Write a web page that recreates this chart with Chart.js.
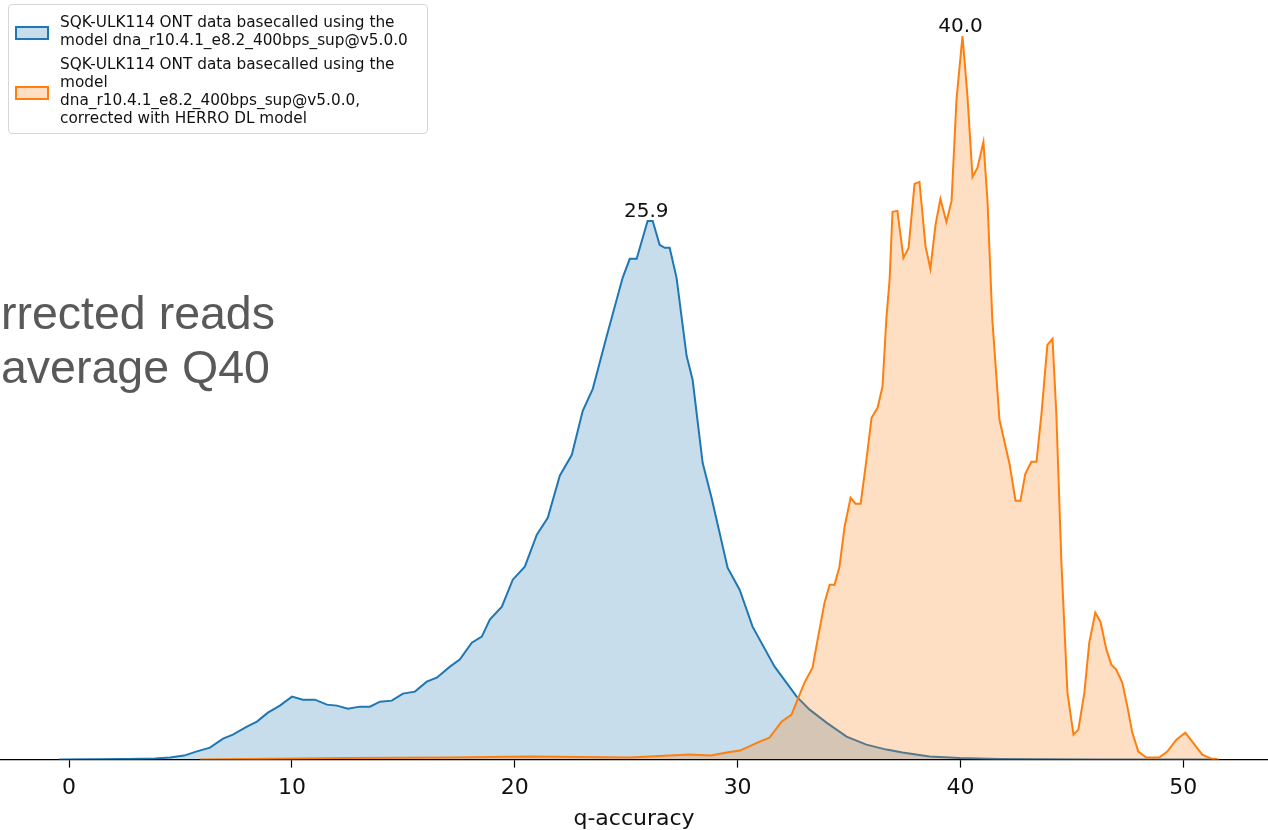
<!DOCTYPE html>
<html>
<head>
<meta charset="utf-8">
<script src="https://cdn.jsdelivr.net/npm/chart.js@4.4.1/dist/chart.umd.min.js"></script>
<style>
  body { margin: 0; background: #fff; overflow: hidden; }
  #wrap { position: relative; width: 1268px; height: 830px; overflow: hidden; }
  #side {
    position: absolute; left: 1px; top: 286px;
    font-family: "Liberation Sans", Arial, sans-serif;
    font-size: 46.5px; line-height: 54px; color: #595959;
    white-space: nowrap;
  }
  #legend {
    position: absolute; left: 8px; top: 4px; width: 418px; height: 128px;
    border: 1px solid #d6d6d6; border-radius: 4px; background: rgba(255,255,255,0.85);
    font-family: "DejaVu Sans", sans-serif; font-size: 15.3px; line-height: 18px; color: #111;
  }
  .item { position: absolute; left: 51px; white-space: nowrap; }
  .patch { position: absolute; left: 6px; width: 30px; height: 10px; border: 2px solid; }
</style>
</head>
<body>
<div id="wrap">
  <canvas id="kde"></canvas>
  <div id="side">rrected reads<br>average Q40</div>
  <div id="legend"></div>
</div>
<script>
// series: q-accuracy positions and KDE density (arbitrary units)
const seriesNames = [
  ["SQK-ULK114 ONT data basecalled using the", "model dna_r10.4.1_e8.2_400bps_sup@v5.0.0"],
  ["SQK-ULK114 ONT data basecalled using the", "model", "dna_r10.4.1_e8.2_400bps_sup@v5.0.0,", "corrected with HERRO DL model"]
];

const rawQ = [-0.45, 2.6, 3.86, 4.53, 5.16, 5.7, 6.32, 6.91, 7.35, 7.98, 8.43, 8.92, 9.46, 10.0,
  10.49, 11.03, 11.57, 12.02, 12.51, 13.05, 13.5, 13.95, 14.48, 14.98, 15.52, 16.05, 16.5, 17.09,
  17.53, 18.07, 18.52, 18.88, 19.42, 19.91, 20.45, 20.99, 21.48, 22.02, 22.56, 23.05, 23.5, 24.13,
  24.84, 25.16, 25.47, 25.96, 26.19, 26.5, 26.73, 26.95, 27.26, 27.71, 27.98, 28.43, 28.83, 29.55,
  30.09, 30.67, 31.66, 32.65, 33.23, 33.99, 34.89, 35.78, 36.68, 37.4, 38.61, 39.96, 41.75, 46.2, 51.4];
const rawDensity = [0, 0.5, 1, 2, 4, 8, 12, 21, 25, 33, 38, 47, 54, 63,
  60, 60, 55, 54, 51, 53, 53, 58, 59, 66, 68, 78, 82, 93,
  100, 117, 123, 140, 153, 180, 193, 225, 242, 284, 305, 349, 371, 424,
  482, 501, 501, 539, 539, 515, 512, 512, 482, 404, 380, 297, 262, 192,
  170, 133, 93, 63, 50, 37, 23, 15, 10, 7, 3, 1.5, 0.5, 0, 0];

const herroQ = [5.87, 12.47, 17.09, 20.67, 25.16, 27.85, 28.79, 29.51, 30.09, 30.4, 30.99, 31.43,
  31.97, 32.42, 32.69, 33.0, 33.36, 33.59, 33.9, 34.13, 34.35, 34.57, 34.8, 35.07, 35.29, 35.52,
  35.78, 36.01, 36.28, 36.5, 36.68, 36.82, 36.95, 37.17, 37.44, 37.67, 37.94, 38.16, 38.43, 38.65,
  38.88, 39.1, 39.37, 39.6, 39.82, 40.09, 40.31, 40.54, 40.76, 41.03, 41.21, 41.43, 41.75, 42.2,
  42.47, 42.69, 42.91, 43.18, 43.41, 43.63, 43.9, 44.13, 44.3, 44.53, 44.8, 45.07, 45.29, 45.56,
  45.78, 46.05, 46.28, 46.55, 46.77, 46.99, 47.26, 47.49, 47.71, 47.98, 48.34, 48.92, 49.28, 49.69,
  50.09, 50.4, 50.85, 51.26, 51.6];
const herroDensity = [0, 1.5, 2, 3, 2, 5, 4, 7, 9, 12, 18, 22,
  38, 45, 60, 77, 92, 120, 157, 175, 175, 193, 233, 262, 256, 256,
  300, 342, 352, 373, 443, 480, 548, 549, 502, 512, 576, 578, 514, 491,
  535, 561, 538, 559, 660, 724, 665, 583, 592, 618, 560, 440, 340, 296,
  259, 259, 286, 298, 298, 345, 415, 421, 347, 197, 67, 25, 30, 67,
  117, 147, 138, 110, 95, 90, 77, 53, 27, 8, 2, 2, 8, 20,
  27, 18, 5, 1, 0];

// modes written above each curve
const modeQ = [25.9, 40.0];
const modeLabels = ["25.9", "40.0"];

const xTicks = [0, 10, 20, 30, 40, 50];

const colors = ["#1f77b4", "#ff7f0e"];
const fills = ["rgba(31,119,180,0.25)", "rgba(255,127,14,0.25)"];

function toPoints(xs, ys) {
  return xs.map((x, i) => ({ x: x, y: ys[i] }));
}

// legend
const legend = document.getElementById("legend");
const tops = [8, 50];
seriesNames.forEach((lines, i) => {
  const item = document.createElement("div");
  item.className = "item";
  item.style.top = tops[i] + "px";
  item.innerHTML = lines.join("<br>");
  legend.appendChild(item);
  const p = document.createElement("div");
  p.className = "patch";
  p.style.borderColor = colors[i];
  p.style.background = fills[i];
  p.style.top = (i === 0 ? 21 : 81) + "px";
  legend.appendChild(p);
});

const modePlugin = {
  id: "modes",
  afterDatasetsDraw(chart) {
    const ctx = chart.ctx;
    const xs = chart.scales.x, ys = chart.scales.y;
    ctx.save();
    ctx.font = "20px 'DejaVu Sans'";
    ctx.fillStyle = "#111";
    ctx.textAlign = "center";
    ctx.textBaseline = "alphabetic";
    modeQ.forEach((q, i) => {
      const vals = i === 0 ? rawDensity : herroDensity;
      const top = Math.max(...vals);
      ctx.fillText(modeLabels[i], xs.getPixelForValue(q), ys.getPixelForValue(top) - 4);
    });
    ctx.restore();
  }
};

const canvas = document.getElementById("kde");
canvas.width = 1268; canvas.height = 830;

new Chart(canvas, {
  type: "line",
  data: {
    datasets: [
      {
        label: seriesNames[0].join(" "),
        data: toPoints(rawQ, rawDensity),
        borderColor: colors[0], backgroundColor: fills[0],
        borderWidth: 2, pointRadius: 0, fill: "origin", tension: 0, order: 2
      },
      {
        label: seriesNames[1].join(" "),
        data: toPoints(herroQ, herroDensity),
        borderColor: colors[1], backgroundColor: fills[1],
        borderWidth: 2, pointRadius: 0, fill: "origin", tension: 0, order: 1
      }
    ]
  },
  options: {
    responsive: false,
    animation: false,
    layout: { padding: 0 },
    plugins: { legend: { display: false }, tooltip: { enabled: false } },
    scales: {
      x: {
        type: "linear",
        min: -3.1, max: 53.8,
        afterBuildTicks: axis => { axis.ticks = xTicks.map(v => ({ value: v })); },
        grid: { drawOnChartArea: false, drawTicks: true, tickLength: 8, color: "#000", tickWidth: 1.2 },
        border: { display: true, color: "#000", width: 1.3 },
        ticks: { color: "#111", padding: 7, maxRotation: 0, font: { family: "DejaVu Sans", size: 22 } },
        title: {
          display: true, text: "q-accuracy", color: "#111",
          padding: { top: 0, bottom: 0 },
          font: { family: "DejaVu Sans", size: 22, lineHeight: 1.0 }
        }
      },
      y: { display: false, min: 0, max: 760 }
    }
  },
  plugins: [modePlugin]
});
</script>
</body>
</html>
